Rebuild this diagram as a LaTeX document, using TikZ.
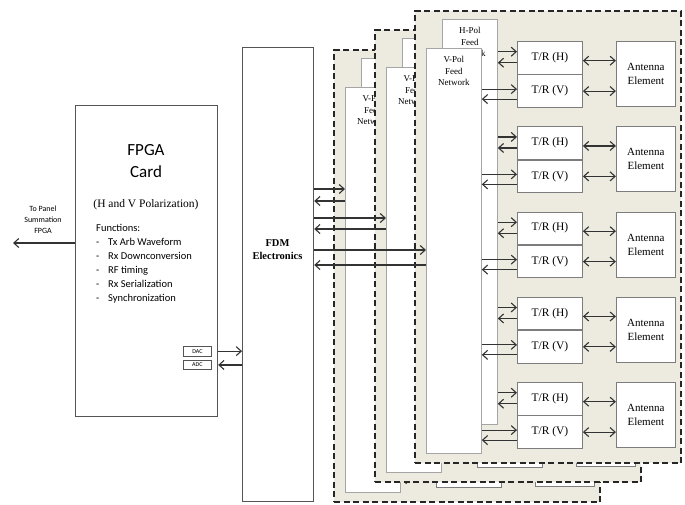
\documentclass[tikz,border=0pt]{standalone}
\usepackage{fontspec}
\setmainfont{Liberation Serif}
\newfontfamily\calib{Carlito}
\usetikzlibrary{arrows.meta,positioning}
\definecolor{panelfill}{RGB}{237,234,224}
\definecolor{edgegray}{RGB}{85,85,85}
\definecolor{boxgray}{RGB}{125,125,125}
\definecolor{feedgray}{RGB}{165,165,165}
\newcommand{\fnitem}[1]{\makebox[12pt][l]{-}#1}

\begin{document}
\begin{tikzpicture}[
    x=1pt, y=-1pt,
    card/.style={rectangle,draw=edgegray,line width=1.2pt,fill=white,anchor=north west,inner sep=0pt},
    panel/.style={rectangle,draw=black!85,fill=panelfill,line width=2pt,dash pattern=on 6pt off 3.5pt,
      anchor=north west,minimum width=266pt,minimum height=452pt,inner sep=0pt},
    feed/.style={rectangle,draw=feedgray,line width=0.8pt,fill=white,anchor=north west,
      minimum width=55pt,minimum height=405pt,inner sep=0pt},
    feedtext/.style={anchor=north,yshift=-5pt,align=center,font=\fontsize{9}{11.5}\selectfont},
    trbox/.style={rectangle,draw=boxgray,line width=0.9pt,fill=white,minimum width=65pt,
      minimum height=32.5pt,inner sep=0pt,font=\fontsize{11.5}{13}\selectfont},
    antbox/.style={rectangle,draw=boxgray,line width=0.9pt,fill=white,minimum width=59pt,
      minimum height=65pt,inner sep=0pt,align=center,font=\fontsize{11}{14}\selectfont},
    port/.style={rectangle,draw=edgegray,line width=0.8pt,minimum width=28pt,minimum height=9.5pt,
      inner sep=0pt,font=\calib\fontsize{6}{6}\selectfont},
    arrow/.style={-{Straight Barb[length=5pt,width=9pt]},line width=1.1pt,draw=black!80},
    biarrow/.style={{Straight Barb[length=5pt,width=9pt]}-{Straight Barb[length=5pt,width=9pt]},
      line width=1.1pt,draw=black!80}
  ]
    \useasboundingbox (0,0) rectangle (685,504);

    % FPGA card
    \node[card,minimum width=142pt,minimum height=311pt] (fpga) at (75,105) {};
    \node[font=\calib\fontsize{17}{22}\selectfont,align=center] (fpgatitle) at (146,161) {FPGA\\Card};
    \node[font=\fontsize{11.5}{13}\selectfont] (polar) at (146,205) {(H and V Polarization)};
    \node[anchor=north west,align=left,inner sep=0pt,font=\calib\fontsize{10.5}{14}\selectfont] (functions) at (96,224)
      {Functions:\\\fnitem{Tx Arb Waveform}\\\fnitem{Rx Downconversion}\\\fnitem{RF timing}\\
       \fnitem{Rx Serialization}\\\fnitem{Synchronization}};
    \node[port,anchor=north west] (dac) at (183,346) {DAC};
    \node[port,below=3.5pt of dac] (adc) {ADC};
    \node[align=center,font=\calib\fontsize{8}{11}\selectfont] (panellabel) at (43,220) {To Panel\\Summation\\FPGA};
    \coordinate (summation) at (13,243);
    \draw[arrow] (fpga.west |- summation) -- (summation);

    % FDM
    \node[card,minimum width=71pt,minimum height=454pt] (fdm) at (242,47) {};
    \node[font=\bfseries\fontsize{10.5}{13}\selectfont,align=center] (fdmtext) at (277.5,250) {FDM\\Electronics};
    \draw[arrow] (dac.east -| fpga.east) -- (dac.east -| fdm.west);
    \draw[arrow] (adc.east -| fdm.west) -- (adc.east -| fpga.east);

    % antenna panels, back to front
    \foreach \p/\dx/\dy in {a/-81/39, b/-40/19, c/0/0} {
      \begin{scope}[shift={(\dx,\dy)}]
        \node[panel] (panel\p) at (414,10) {};
        \node[feed] (hpol\p) at (442,19) {};
        \if c\p \node[feedtext] (hpoltext\p) at (hpol\p.north) {H-Pol\\Feed\\Network};\fi
        \node[feed] (vpol\p) at (426,48) {};
        \node[feedtext] (vpoltext\p) at (vpol\p.north) {V-Pol\\Feed\\Network};
        \foreach \i in {0,...,4} {
          \node[trbox,anchor=north west] (trh\p\i) at (517,41+85.25*\i) {T/R (H)};
          \node[trbox,below=0pt of trh\p\i] (trv\p\i) {T/R (V)};
          \node[antbox,right=33pt of trh\p\i.north east,anchor=north west] (ant\p\i) {Antenna\\Element};
          \draw[arrow] ([yshift=6pt]trh\p\i.west -| hpol\p.east) -- ([yshift=6pt]trh\p\i.west);
          \draw[arrow] ([yshift=-5pt]trh\p\i.west) -- ([yshift=-5pt]trh\p\i.west -| hpol\p.east);
          \draw[arrow] ([yshift=2pt]trv\p\i.west -| vpol\p.east) -- ([yshift=2pt]trv\p\i.west);
          \draw[arrow] ([yshift=-8pt]trv\p\i.west) -- ([yshift=-8pt]trv\p\i.west -| vpol\p.east);
          \draw[biarrow] ([yshift=-3pt]trh\p\i.east) -- ([yshift=-3pt]trh\p\i.east -| ant\p\i.west);
          \draw[biarrow] (trv\p\i.east) -- (trv\p\i.east -| ant\p\i.west);
        }
      \end{scope}
    }

    % FDM links to the V-Pol feeds
    \foreach \p/\ya/\yb in {a/189/201, b/218/229, c/250/265} {
      \draw[arrow] (fdm.east |- 0,\ya) -- (vpol\p.west |- 0,\ya);
      \draw[arrow] (vpol\p.west |- 0,\yb) -- (fdm.east |- 0,\yb);
    }
\end{tikzpicture}
\end{document}
